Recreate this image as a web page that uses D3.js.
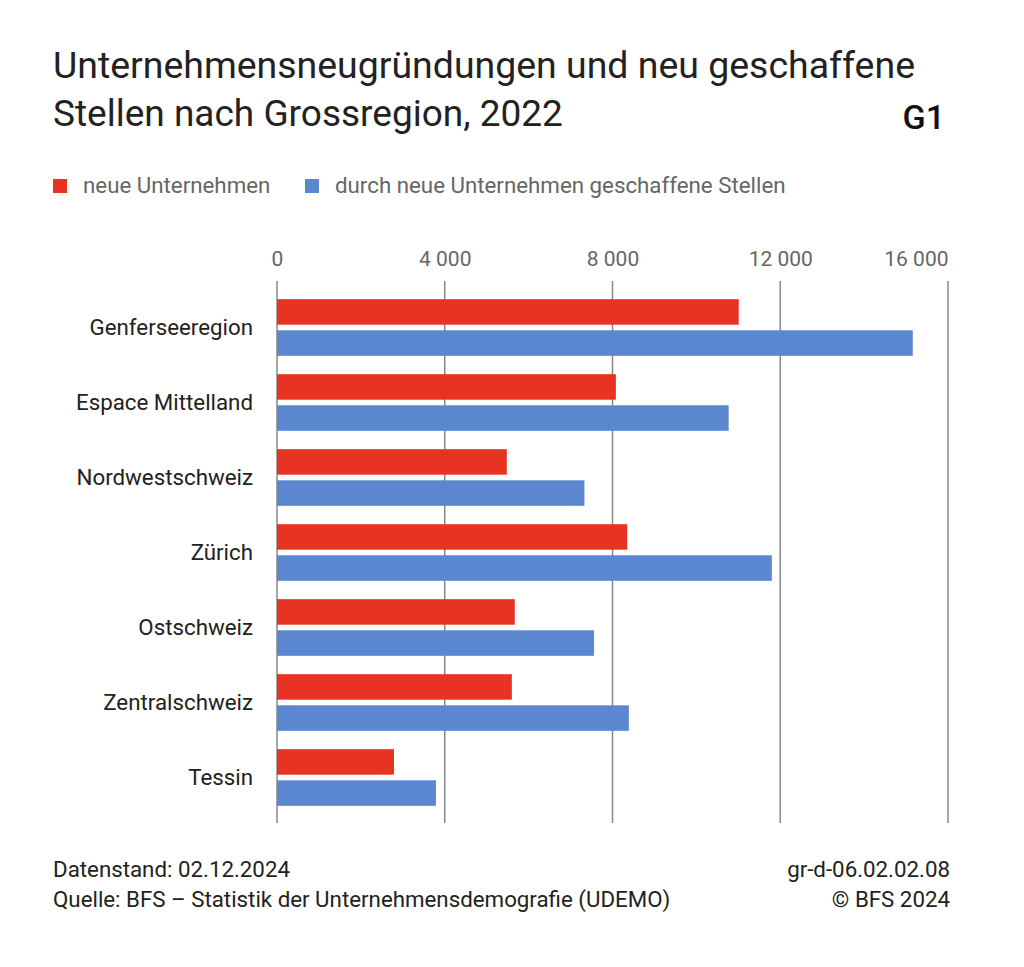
<!DOCTYPE html>
<html><head><meta charset="utf-8">
<script src="https://cdn.jsdelivr.net/npm/d3@7"></script>
<style>
body{margin:0;background:#fff;}
text{font-family:Roboto,"Noto Sans",sans-serif;}
</style></head>
<body><svg id="c" width="1024" height="967"></svg>
<script>
const categories = ["Genferseeregion","Espace Mittelland","Nordwestschweiz","Zürich","Ostschweiz","Zentralschweiz","Tessin"];
const neueUnternehmen = [11010, 8080, 5480, 8350, 5670, 5600, 2790];
const geschaffeneStellen = [15160, 10770, 7330, 11800, 7560, 8390, 3790];
const seriesNames = ["neue Unternehmen","durch neue Unternehmen geschaffene Stellen"];
const tickValues = [0, 4000, 8000, 12000, 16000];
const colors = ["#e83323", "#5b87d0"];

const svg = d3.select("#c");
const x = d3.scaleLinear().domain([0,16000]).range([277,948]);
const y = d3.scaleBand().domain(categories).range([290,815]).paddingInner(0).paddingOuter(0);
const sub = d3.scaleBand().domain([0,1]).range([0,y.bandwidth()]).paddingInner(0.18).paddingOuter(0.295);

// title
const t = svg.append("text").attr("x",53).attr("font-size",37).attr("fill","#222");
t.append("tspan").attr("x",53).attr("y",78).attr("textLength",862).attr("lengthAdjust","spacingAndGlyphs").text("Unternehmensneugründungen und neu geschaffene");
t.append("tspan").attr("x",53).attr("y",126).text("Stellen nach Grossregion, 2022");
svg.append("text").attr("x",945).attr("y",129).attr("text-anchor","end").attr("font-size",34).attr("font-weight",500).attr("fill","#111").text("G1");

// legend
const lg = [{x:53},{x:305}];
seriesNames.forEach((n,i)=>{
  svg.append("rect").attr("x",lg[i].x).attr("y",179).attr("width",14).attr("height",14).attr("fill",colors[i]);
  svg.append("text").attr("x",lg[i].x+30).attr("y",193).attr("font-size",22.3).attr("fill","#666").text(n);
});

// grid/axis
const ax = d3.axisTop(x).tickValues(tickValues).tickSize(0).tickPadding(0)
  .tickFormat(d => d3.format(",")(d).replace(/,/g," "));
const g = svg.append("g").attr("transform","translate(0,266)").call(ax);
g.select(".domain").remove();
g.selectAll("text").attr("font-size",21).attr("fill","#666").attr("font-family","Roboto").attr("dy","0")
  .attr("text-anchor",(d,i,n)=> i===n.length-1 ? "end" : "middle");
svg.append("g").selectAll("line").data(tickValues).join("line")
  .attr("x1",d=>x(d)).attr("x2",d=>x(d)).attr("y1",281).attr("y2",823)
  .attr("stroke","#888").attr("stroke-width",1.5);

// bars
const data = categories.map((c,i)=>({c, v:[neueUnternehmen[i], geschaffeneStellen[i]]}));
const rows = svg.append("g").selectAll("g").data(data).join("g")
  .attr("transform",d=>`translate(0,${y(d.c)})`);
rows.selectAll("rect").data(d=>d.v.map((v,k)=>({v,k}))).join("rect")
  .attr("x",x(0)).attr("y",d=>sub(d.k)).attr("height",sub.bandwidth())
  .attr("width",d=>x(d.v)-x(0)).attr("fill",d=>colors[d.k]);

// category labels
const ay = d3.axisLeft(y).tickSize(0).tickPadding(0);
const gy = svg.append("g").attr("transform","translate(253,0)").call(ay);
gy.select(".domain").remove();
gy.selectAll("text").attr("font-size",22.3).attr("fill","#222").attr("font-family","Roboto").attr("dy","0.35em");

// footer
const f = [["Datenstand: 02.12.2024",877,53,"start"],["Quelle: BFS – Statistik der Unternehmensdemografie (UDEMO)",907,53,"start"],
  ["gr-d-06.02.02.08",877,950,"end"],["© BFS 2024",907,950,"end"]];
f.forEach(d=>svg.append("text").attr("x",d[2]).attr("y",d[1]).attr("text-anchor",d[3]).attr("font-size",22.3).attr("fill","#222").text(d[0]));
</script></body></html>
